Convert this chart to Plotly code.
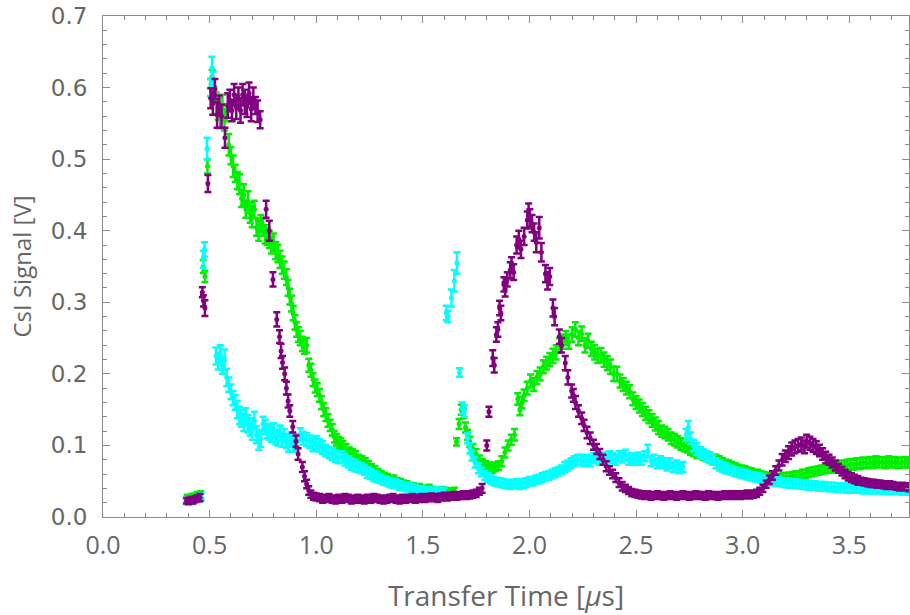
import plotly.graph_objects as go

# Each entry: (transfer time in ns, CsI signal in mV, error in mV)
purple_points = [
    (392,23,4),(402,22,4),(412,24,4),(422,23,4),(432,25,4),(442,26,4),(455,27,5),
    (466,314,7),(471,302,8),(478,292,11),(492,466,12),
    (505,585,14),(515,578,16),(525,598,14),(535,562,18),(545,575,14),(556,560,16),(572,530,14),
    (585,575,17),(595,582,15),(605,568,15),(615,590,15),(625,573,17),(635,585,15),(645,568,17),
    (655,590,15),(665,580,17),(675,574,15),(685,592,15),(695,570,17),(705,585,15),(715,575,12),
    (725,567,15),(737,555,12),
    (765,430,12),(780,400,14),(797,332,10),(815,276,10),
    (828,252,9),(835,232,10),(842,216,9),(852,200,9),(860,180,9),(868,162,9),(876,148,8),
    (890,126,8),(905,106,8),(915,88,8),(935,70,7),(945,57,7),(955,46,6),(965,37,6),(975,32,5),(987,29,5),
    (1000,28,5),(1015,27,5),(1030,25,5),(1045,26,5),(1060,27,5),(1075,25,5),(1090,24,5),(1105,26,5),
    (1120,25,5),(1135,27,5),(1150,26,5),(1165,24,5),(1180,25,5),(1195,26,5),(1210,25,5),(1225,24,5),
    (1240,26,5),(1255,25,5),(1270,27,5),(1285,26,5),(1300,25,5),(1315,24,5),(1330,25,5),(1345,26,5),
    (1360,27,5),(1375,25,5),(1390,24,5),(1405,26,5),(1420,25,5),(1435,26,5),(1450,27,5),(1465,25,5),
    (1480,26,5),(1495,27,5),(1510,26,5),(1525,27,5),(1540,28,5),(1555,27,5),(1570,26,5),(1585,28,5),
    (1600,29,5),(1615,28,5),(1630,29,5),(1645,30,5),(1660,29,5),(1675,30,5),(1690,31,5),(1705,30,5),
    (1720,31,5),(1735,32,5),(1750,33,5),(1765,36,5),
    (1778,40,6),(1800,100,7),(1810,147,7),(1828,222,11),(1835,212,10),(1845,255,10),(1852,262,10),
    (1860,292,10),(1866,285,10),(1880,325,10),(1886,318,10),(1896,332,10),(1910,345,11),(1916,352,11),
    (1926,342,11),(1940,380,12),(1950,388,12),(1960,374,12),(1975,392,12),(1990,415,12),(1996,426,12),
    (2002,418,12),(2012,410,12),(2022,398,12),(2032,384,14),(2046,404,15),(2056,370,13),(2075,340,12),
    (2085,330,12),(2095,336,12),(2110,292,12),(2118,280,12),(2140,252,10),(2150,240,10),(2168,215,10),
    (2180,195,10),(2198,176,9),(2206,170,9),(2216,160,9),(2230,148,8),(2245,138,8),(2256,128,8),
    (2270,118,8),(2285,110,8),(2300,101,7),(2315,95,7),(2330,88,7),(2345,80,7),(2360,71,7),(2375,65,6),
    (2390,60,6),(2405,55,6),(2420,48,6),(2435,43,6),(2450,40,5),(2465,37,5),(2480,34,5),(2495,33,5),
    (2510,32,5),(2525,31,5),
    (2540,30,5),(2555,31,5),(2570,29,5),(2585,30,5),(2600,31,5),(2615,30,5),(2630,29,5),(2645,30,5),
    (2660,31,5),(2675,30,5),(2690,29,5),(2705,30,5),(2720,31,5),(2735,30,5),(2750,29,5),(2765,30,5),
    (2780,31,5),(2795,30,5),(2810,30,5),(2825,29,5),(2840,31,5),(2855,30,5),(2870,30,5),(2885,29,5),
    (2900,30,5),(2915,31,5),(2930,30,5),(2945,31,5),(2960,30,5),(2975,31,5),(2990,30,5),(3005,31,5),
    (3020,32,5),(3035,31,5),(3050,32,5),(3065,33,5),
    (3080,36,5),(3095,40,5),(3110,46,5),(3125,52,6),(3140,58,6),(3155,65,6),(3170,72,7),(3185,80,8),
    (3200,85,8),(3215,90,9),(3230,95,9),(3245,98,9),(3260,100,9),(3275,102,9),(3290,98,9),(3300,106,9),
    (3315,103,9),(3330,100,9),(3345,97,9),(3360,93,8),(3375,88,8),(3390,83,8),(3405,80,7),(3420,76,7),
    (3435,72,7),(3450,68,6),(3465,64,6),(3480,60,6),(3495,57,6),(3510,55,6),(3525,53,6),(3540,51,6),
    (3555,50,5),(3570,49,5),(3585,48,5),(3600,47,5),(3615,47,5),(3630,46,5),(3645,46,5),(3660,45,5),
    (3675,44,5),(3690,45,5),(3705,44,5),(3720,43,5),(3735,42,5),(3750,43,5),(3765,42,5),(3780,41,5),
]

green_points = [
    (395,26,5),(405,25,5),(415,27,5),(428,28,5),(442,30,5),(458,31,5),
    (470,350,9),(478,336,8),(490,490,10),
    (505,600,12),(512,615,10),(520,590,12),(530,578,15),(540,570,15),(550,560,17),(560,575,15),
    (570,555,15),(580,565,12),(590,520,15),(600,505,12),(610,490,15),(620,480,12),(630,470,12),
    (640,465,14),(650,445,12),(660,450,15),(670,430,12),(680,440,15),(690,425,14),(700,420,15),
    (710,430,12),(720,405,12),(730,400,14),(740,410,12),(750,405,12),(760,395,13),(770,392,12),
    (780,388,12),(790,380,12),(800,384,12),(810,372,12),(820,368,12),(830,360,12),(840,352,12),
    (850,345,12),(860,335,11),(868,320,11),(876,308,11),(884,298,11),(892,285,10),(900,272,10),
    (908,262,10),(916,255,10),(925,250,10),(935,242,10),(945,238,10),(955,240,10),(965,212,9),
    (975,205,9),(985,192,9),(995,183,9),(1005,178,9),(1015,170,9),(1025,160,9),(1035,150,9),
    (1045,143,9),(1055,135,9),(1065,128,8),(1075,122,8),(1085,112,8),(1095,108,8),(1105,104,8),
    (1115,102,8),(1125,98,8),(1140,95,7),(1155,90,7),(1170,88,7),(1185,85,7),(1200,80,7),(1215,78,7),
    (1230,75,7),(1245,71,7),(1260,68,6),(1275,65,6),(1290,61,6),(1305,58,6),(1320,56,6),(1335,54,6),
    (1350,51,6),(1365,52,6),(1380,48,6),(1395,47,6),(1410,46,5),(1425,45,5),(1440,43,5),(1455,42,5),
    (1470,40,5),(1485,41,5),(1500,39,5),(1515,38,5),(1530,40,5),(1545,37,5),(1560,36,5),(1575,35,5),
    (1590,37,5),(1605,36,5),(1620,35,5),(1635,34,5),(1648,36,5),
    (1658,105,5),(1670,130,7),(1680,150,7),(1690,145,7),(1700,125,7),(1710,115,7),(1720,105,7),
    (1735,95,7),(1750,88,7),(1765,80,6),(1780,75,6),(1795,72,6),(1810,70,6),(1825,68,6),(1840,70,6),
    (1855,72,6),(1870,78,7),(1885,90,7),(1900,100,7),(1915,108,7),(1930,115,8),(1945,165,8),
    (1955,150,8),(1965,160,8),(1975,170,8),(1990,180,9),(2005,190,9),(2020,185,9),(2035,195,9),
    (2050,200,9),(2065,210,9),(2080,215,9),(2095,220,9),(2110,225,10),(2125,230,10),(2140,240,10),
    (2155,245,10),(2170,250,10),(2185,245,10),(2200,255,10),(2215,262,10),(2230,250,10),(2245,256,10),
    (2260,240,10),(2275,246,10),(2290,235,10),(2305,230,10),(2320,225,10),(2335,226,10),(2350,220,10),
    (2365,215,10),(2380,210,10),(2395,200,10),(2410,200,10),(2425,190,9),(2440,185,9),(2455,180,9),
    (2470,175,9),(2485,165,9),(2500,160,9),(2515,155,9),(2530,150,9),(2545,145,9),(2560,140,9),
    (2575,135,9),(2590,130,9),(2605,125,9),(2620,120,8),(2635,118,8),(2650,115,8),(2665,110,8),
    (2680,108,8),(2695,105,8),(2710,102,8),(2725,100,8),(2740,98,8),(2755,95,8),(2770,93,8),
    (2785,90,8),(2800,90,7),(2815,87,7),(2830,85,7),(2845,83,7),(2860,80,7),(2875,80,7),(2890,78,7),
    (2905,75,7),(2920,73,7),(2935,72,7),(2950,70,7),(2965,68,7),(2980,67,6),(2995,66,6),(3010,65,6),
    (3025,63,6),(3040,62,6),(3055,60,6),(3070,60,6),(3085,58,6),(3100,57,6),(3115,56,6),(3130,55,6),
    (3145,55,6),(3160,54,6),(3175,54,6),(3190,55,6),(3205,56,6),(3220,56,6),(3235,57,6),(3250,58,6),
    (3265,58,6),(3280,60,6),(3295,60,6),(3310,62,6),(3325,63,6),(3340,64,6),(3355,65,6),(3370,66,6),
    (3385,67,6),(3400,68,6),(3415,68,6),(3430,70,7),(3445,70,7),(3460,72,7),(3475,71,7),(3490,73,7),
    (3505,74,7),(3520,73,7),(3535,75,7),(3550,74,7),(3565,76,7),(3580,75,7),(3595,77,7),(3610,75,7),
    (3625,78,7),(3640,76,7),(3655,77,7),(3670,75,7),(3685,78,7),(3700,76,7),(3715,77,7),(3730,75,7),
    (3745,76,7),(3760,77,7),(3775,76,7),
]

cyan_points = [
    (390,22,4),(400,21,4),(410,23,4),(420,22,4),(430,24,4),(440,25,4),(450,26,4),(460,28,5),
    (470,360,12),(476,374,10),(488,515,15),
    (506,600,12),(511,628,15),(516,612,10),
    (530,225,12),(540,218,12),(550,228,12),(560,212,12),(570,220,14),(580,195,12),(590,185,10),
    (600,175,10),(610,166,10),(620,160,10),(630,150,12),(640,142,12),(650,138,12),(660,132,12),
    (670,140,12),(680,130,12),(690,126,12),(700,120,12),(710,135,12),(720,115,12),(730,106,12),
    (740,110,12),(750,130,10),(760,126,10),(770,120,10),(780,118,10),(790,115,10),(800,121,10),
    (810,112,10),(820,110,10),(830,118,10),(840,108,10),(850,113,10),(860,106,10),(870,101,10),
    (880,108,10),(890,103,10),(900,101,10),(910,106,10),(925,115,9),(940,110,9),(955,108,9),
    (970,105,9),(985,101,9),(1000,104,9),(1015,100,9),(1030,97,9),(1045,93,8),(1060,90,8),
    (1075,88,8),(1090,85,8),(1105,83,8),(1120,84,8),(1135,80,8),(1150,77,8),(1165,74,8),(1180,72,8),
    (1195,70,7),(1210,68,7),(1225,66,7),(1240,62,7),(1255,60,7),(1270,57,7),(1285,56,7),(1300,53,6),
    (1315,51,6),(1330,50,6),(1345,48,6),(1360,47,6),(1375,46,6),(1390,44,6),(1405,43,6),(1420,42,6),
    (1435,41,6),(1450,40,6),(1465,39,6),(1480,38,5),(1495,38,5),(1510,37,5),(1525,37,5),(1540,36,5),
    (1555,36,5),(1570,36,5),(1585,35,5),(1598,36,5),
    (1610,285,10),(1618,280,8),(1634,306,12),(1648,330,15),(1660,355,15),
    (1672,202,6),(1685,152,8),(1695,148,8),(1710,110,7),(1720,96,7),(1730,86,7),(1745,76,7),
    (1760,68,7),(1775,63,6),(1790,58,6),(1805,55,6),(1820,52,6),(1835,50,6),(1850,49,6),(1865,48,6),
    (1880,47,6),(1895,46,6),(1910,45,6),(1925,46,6),(1940,47,6),(1955,45,6),(1970,47,6),(1985,48,6),
    (2000,50,6),(2015,50,6),(2030,52,6),(2045,53,6),(2060,55,6),(2075,57,6),(2090,58,6),(2105,60,6),
    (2120,62,6),(2135,64,6),(2150,66,6),(2165,70,7),(2180,72,7),(2195,75,7),(2210,78,7),(2225,80,7),
    (2240,80,7),(2255,78,7),(2270,80,7),(2285,78,7),(2300,82,7),(2315,85,7),(2330,80,7),(2345,83,7),
    (2360,80,7),(2375,85,7),(2390,82,7),(2405,80,7),(2420,85,7),(2435,83,7),(2450,87,7),(2465,80,7),
    (2480,82,7),(2495,80,7),(2510,83,7),(2525,80,7),(2540,85,7),(2555,92,9),(2570,78,7),(2585,80,7),
    (2600,75,7),(2615,78,7),(2630,75,7),(2645,72,7),(2660,75,7),(2675,70,7),(2690,72,7),(2705,68,7),
    (2720,70,7),(2735,115,8),(2745,125,9),(2755,110,8),(2770,100,8),(2785,95,8),(2800,90,7),
    (2815,88,7),(2830,85,7),(2845,82,7),(2860,80,7),(2875,75,7),(2890,72,7),(2905,70,7),(2920,68,7),
    (2935,66,6),(2950,65,6),(2965,63,6),(2980,62,6),(2995,60,6),(3010,60,6),(3025,58,6),(3040,57,6),
    (3055,56,6),(3070,55,6),(3085,54,6),(3100,53,6),(3115,52,6),(3130,51,6),(3145,50,6),(3160,50,6),
    (3175,49,6),(3190,48,6),(3205,48,6),(3220,47,6),(3235,47,6),(3250,46,6),(3265,46,6),(3280,45,6),
    (3295,45,6),(3310,44,6),(3325,44,6),(3340,44,6),(3355,43,6),(3370,43,6),(3385,43,6),(3400,42,6),
    (3415,42,6),(3430,42,6),(3445,41,6),(3460,41,6),(3475,41,6),(3490,40,6),(3505,41,6),(3520,40,6),
    (3535,40,6),(3550,40,6),(3565,39,6),(3580,40,6),(3595,39,6),(3610,39,6),(3625,40,6),(3640,39,6),
    (3655,38,6),(3670,39,6),(3685,38,6),(3700,38,6),(3715,39,6),(3730,38,6),(3745,37,6),(3760,38,6),
    (3775,37,6),
]

series_colors = {"green": "#00ee00", "cyan": "#00ffff", "purple": "#800080"}
x_ticks = [0.0, 0.5, 1.0, 1.5, 2.0, 2.5, 3.0, 3.5]
y_ticks = [0.0, 0.1, 0.2, 0.3, 0.4, 0.5, 0.6, 0.7]

fig = go.Figure()
for name, pts in [("green", green_points), ("cyan", cyan_points), ("purple", purple_points)]:
    t_us = [p[0] / 1000 for p in pts]
    v = [p[1] / 1000 for p in pts]
    err = [p[2] / 1000 for p in pts]
    fig.add_trace(go.Scatter(
        x=t_us, y=v, mode="markers", name=name,
        marker=dict(color=series_colors[name], size=5),
        error_y=dict(type="data", array=err, visible=True, color=series_colors[name],
                     thickness=2.5, width=3.5),
        showlegend=False,
    ))

axis_col = "#8a8a8a"
text_col = "#666666"
fig.update_layout(
    width=910, height=615,
    margin=dict(l=103, r=1, t=16, b=98),
    paper_bgcolor="white", plot_bgcolor="white",
    xaxis=dict(
        range=[0, 3.78], tickvals=x_ticks, tickformat=".1f",
        ticks="inside", ticklen=7, tickwidth=1, tickcolor=axis_col,
        minor=dict(dtick=0.1, ticks="inside", ticklen=4, tickcolor=axis_col),
        showline=True, linecolor=axis_col, linewidth=1, mirror="ticks",
        showgrid=False, zeroline=False, ticklabelstandoff=6,
        tickfont=dict(family="Open Sans, sans-serif", size=25, color=text_col),
        title=dict(text="Transfer Time [<i>μ</i>s]", standoff=26,
                   font=dict(family="Open Sans, sans-serif", size=28, color=text_col)),
    ),
    yaxis=dict(
        range=[0, 0.7], tickvals=y_ticks, tickformat=".1f",
        ticks="inside", ticklen=7, tickwidth=1, tickcolor=axis_col,
        minor=dict(dtick=0.02, ticks="inside", ticklen=4, tickcolor=axis_col),
        showline=True, linecolor=axis_col, linewidth=1, mirror="ticks",
        showgrid=False, zeroline=False, ticklabelstandoff=10,
        tickfont=dict(family="DejaVu Sans, sans-serif", size=23, color=text_col),
        title=dict(text="CsI Signal [V]", standoff=12,
                   font=dict(family="Open Sans, sans-serif", size=24, color=text_col)),
    ),
)

fig.write_html("out.html")
